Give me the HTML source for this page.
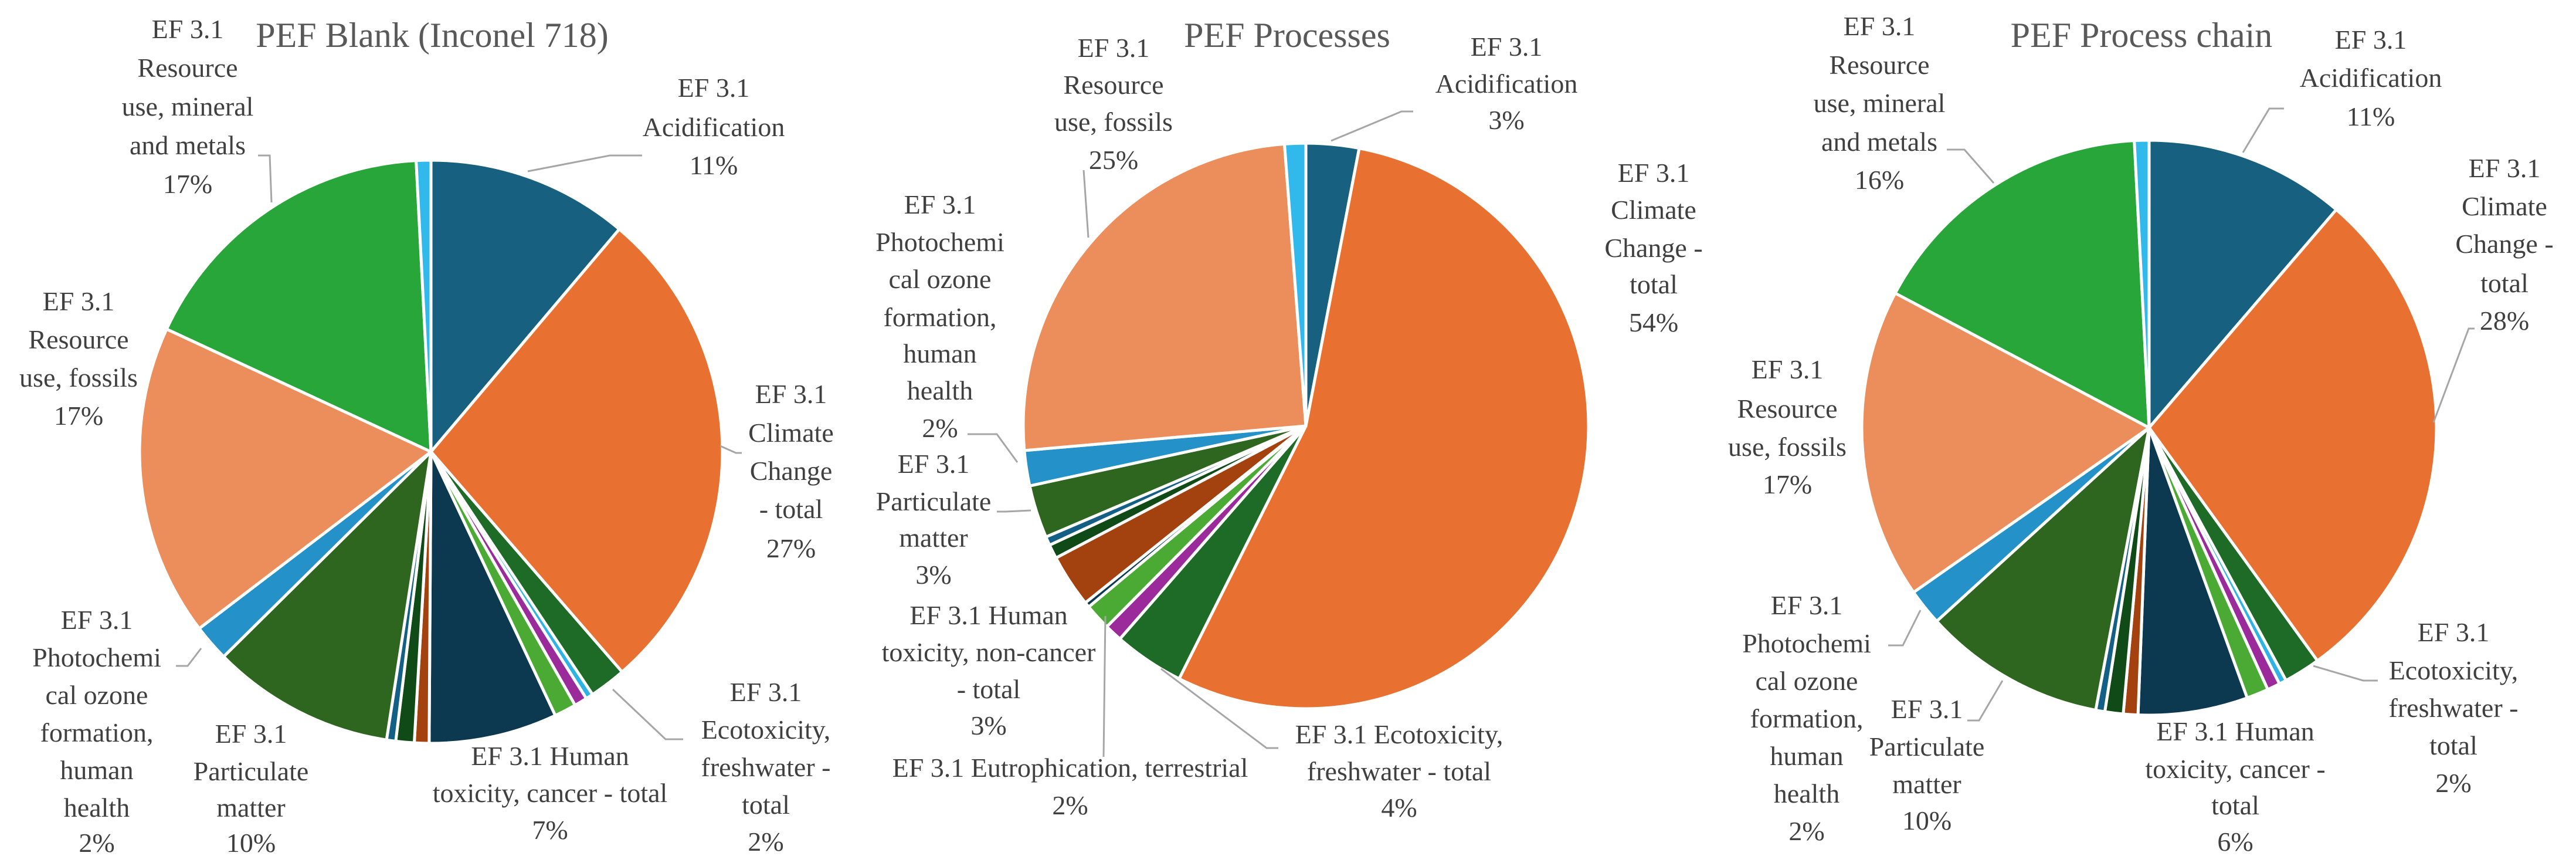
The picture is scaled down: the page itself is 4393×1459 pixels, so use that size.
<!DOCTYPE html>
<html><head><meta charset="utf-8"><style>
html,body{margin:0;padding:0;background:#fff;}
svg{display:block;}
text{font-family:"Liberation Serif","DejaVu Serif",serif;fill:#404040;}
.lb{font-size:46px;}
.tt{font-size:60px;fill:#595959;}
.ld{stroke:#a6a6a6;stroke-width:3;fill:none;}
</style></head><body>
<svg id="chart" width="4393" height="1459" viewBox="0 0 4393 1459" xmlns="http://www.w3.org/2000/svg">
<g id="pies"></g>
<g id="labels"></g>
</svg>
<script>
// Shared category list (clockwise from 12 o'clock)
const categories = ["Acidification","Climate change","Ecotoxicity freshwater","Water use small","Ozone depletion","Eutrophication terrestrial","Human toxicity cancer","Human toxicity non-cancer","Eutrophication freshwater","Eutrophication marine","Particulate matter","Photochemical ozone","Resource fossils","Resource minerals","Land use"];
const colors = ["#17607f","#e87031","#1d6b27","#2fb2e6","#9b2b9b","#4aaa34","#0c3950","#a4420f","#0f4a17","#135f85","#2f661f","#2491c8","#ec8e5c","#28a63a","#32b9ec"];
const blankValues   = [11,27,2,0.4,0.7,1.2,7,0.8,1,0.5,10,2,17,17,0.8];
const processValues = [3,54,4,0,1,1.5,0.3,3,0.8,0.5,3,2,25,0,1.2];
const chainValues   = [11,28,2,0.4,0.7,1.2,6,0.8,1,0.5,10,2,17,16,0.8];

const NS="http://www.w3.org/2000/svg";
const piesG=document.getElementById('pies');
function drawPie(id,values,cx,cy,r,cols){
  const g=document.createElementNS(NS,'g');
  
  
  piesG.appendChild(g);
  const total=values.reduce((a,b)=>a+b,0);
  let cum=0;
  values.forEach((v,i)=>{
    if(v<=0) return;
    const a0=cum/total*2*Math.PI; cum+=v; const a1=cum/total*2*Math.PI;
    const x0=cx+r*Math.sin(a0), y0=cy-r*Math.cos(a0);
    const x1=cx+r*Math.sin(a1), y1=cy-r*Math.cos(a1);
    const large=(a1-a0)>Math.PI?1:0;
    const p=document.createElementNS(NS,'path');
    p.setAttribute('d',`M${cx},${cy} L${x0.toFixed(2)},${y0.toFixed(2)} A${r},${r} 0 ${large} 1 ${x1.toFixed(2)},${y1.toFixed(2)} Z`);
    p.setAttribute('fill',cols[i]);
    p.setAttribute('stroke','#ffffff');
    p.setAttribute('stroke-width','5');
    p.setAttribute('stroke-linejoin','round');
    
    
    g.appendChild(p);
  });
}
drawPie('pie-blank',blankValues,735,770,497,colors);
drawPie('pie-processes',processValues,2227,726,482,colors);
drawPie('pie-process-chain',chainValues,3665,729,490,colors);

const labelsG=document.getElementById('labels');
function label(name,cx,ys,lines,cls){
  const t=document.createElementNS(NS,'text');
  t.setAttribute('class',cls||'lb');
  t.setAttribute('font-family','Liberation Serif, DejaVu Serif, serif');
  t.setAttribute('text-anchor','middle');
  
  
  lines.forEach((s,i)=>{
    const sp=document.createElementNS(NS,'tspan');
    sp.setAttribute('x',cx);
    sp.setAttribute('y',ys[i]+12);
    sp.textContent=s;
    t.appendChild(sp);
  });
  labelsG.appendChild(t);
}
// Pie 1
label('title-blank',737,[68],['PEF Blank (Inconel 718)'],'tt');
label('label-blank-minerals',320,[53,119,185,251,317],['EF 3.1','Resource','use, mineral','and metals','17%']);
label('label-blank-acidification',1217,[153,220,285],['EF 3.1','Acidification','11%']);
label('label-blank-fossils',134,[517,582,647,712],['EF 3.1','Resource','use, fossils','17%']);
label('label-blank-climate',1349,[675,741,806,871,938],['EF 3.1','Climate','Change','- total','27%']);
label('label-blank-photochemical',165,[1060,1124,1188,1252,1316,1380,1440],['EF 3.1','Photochemi','cal ozone','formation,','human','health','2%']);
label('label-blank-particulate',428,[1254,1318,1380,1440],['EF 3.1','Particulate','matter','10%']);
label('label-blank-human-tox',938,[1292,1355,1418],['EF 3.1 Human','toxicity, cancer - total','7%']);
label('label-blank-ecotox',1306,[1183,1247,1311,1375,1438],['EF 3.1','Ecotoxicity,','freshwater -','total','2%']);
// Pie 2
label('title-processes',2195,[68],['PEF Processes'],'tt');
label('label-proc-fossils',1899,[85,148,211,276],['EF 3.1','Resource','use, fossils','25%']);
label('label-proc-acidification',2569,[83,146,208],['EF 3.1','Acidification','3%']);
label('label-proc-climate',2820,[298,361,426,488,553],['EF 3.1','Climate','Change -','total','54%']);
label('label-proc-photochemical',1603,[352,416,479,544,606,669,733],['EF 3.1','Photochemi','cal ozone','formation,','human','health','2%']);
label('label-proc-particulate',1592,[794,858,920,983],['EF 3.1','Particulate','matter','3%']);
label('label-proc-human-tox',1686,[1052,1115,1178,1240],['EF 3.1 Human','toxicity, non-cancer','- total','3%']);
label('label-proc-eutrophication',1825,[1312,1376],['EF 3.1 Eutrophication, terrestrial','2%']);
label('label-proc-ecotox',2386,[1255,1318,1380],['EF 3.1 Ecotoxicity,','freshwater - total','4%']);
// Pie 3
label('title-process-chain',3652,[68],['PEF Process chain'],'tt');
label('label-chain-minerals',3205,[48,114,179,245,310],['EF 3.1','Resource','use, mineral','and metals','16%']);
label('label-chain-acidification',4043,[71,136,202],['EF 3.1','Acidification','11%']);
label('label-chain-climate',4271,[290,355,419,486,550],['EF 3.1','Climate','Change -','total','28%']);
label('label-chain-fossils',3048,[633,700,765,829],['EF 3.1','Resource','use, fossils','17%']);
label('label-chain-photochemical',3081,[1035,1100,1164,1228,1292,1356,1420],['EF 3.1','Photochemi','cal ozone','formation,','human','health','2%']);
label('label-chain-particulate',3286,[1212,1276,1340,1402],['EF 3.1','Particulate','matter','10%']);
label('label-chain-human-tox',3812,[1250,1314,1376,1438],['EF 3.1 Human','toxicity, cancer -','total','6%']);
label('label-chain-ecotox',4184,[1081,1146,1210,1274,1338],['EF 3.1','Ecotoxicity,','freshwater -','total','2%']);

// Leader lines (annotation)
const leaders=[
 ['leader-blank-acid','900,292 1040,265 1095,265'],
 ['leader-blank-minerals','463,345 460,265 440,265'],
 ['leader-blank-climate','1228,760 1255,772 1265,772'],
 ['leader-blank-photo','343,1105 320,1135 300,1135'],
 ['leader-blank-ecotox','1045,1175 1135,1260 1165,1260'],
 ['leader-proc-acid','2270,240 2390,190 2410,190'],
 ['leader-proc-fossils','1856,405 1848,290'],
 ['leader-proc-photo','1735,788 1700,740 1650,740'],
 ['leader-proc-pm','1758,870 1715,872 1700,872'],
 ['leader-proc-eutro','1885,1050 1882,1290'],
 ['leader-proc-ecotox','1980,1140 2160,1275 2180,1275'],
 ['leader-chain-acid','3825,260 3870,185 3895,185'],
 ['leader-chain-minerals','3400,312 3350,255 3320,255'],
 ['leader-chain-climate','4150,720 4210,560 4220,560'],
 ['leader-chain-photo','3275,1040 3245,1100 3220,1100'],
 ['leader-chain-pm','3415,1160 3375,1228 3355,1228'],
 ['leader-chain-ecotox','3945,1135 4030,1160 4055,1160']
];
leaders.forEach(l=>{
  const p=document.createElementNS(NS,'polyline');
  p.setAttribute('class','ld');
  p.setAttribute('points',l[1]);
  
  
  labelsG.insertBefore(p,labelsG.firstChild);
});
</script>
</body></html>
